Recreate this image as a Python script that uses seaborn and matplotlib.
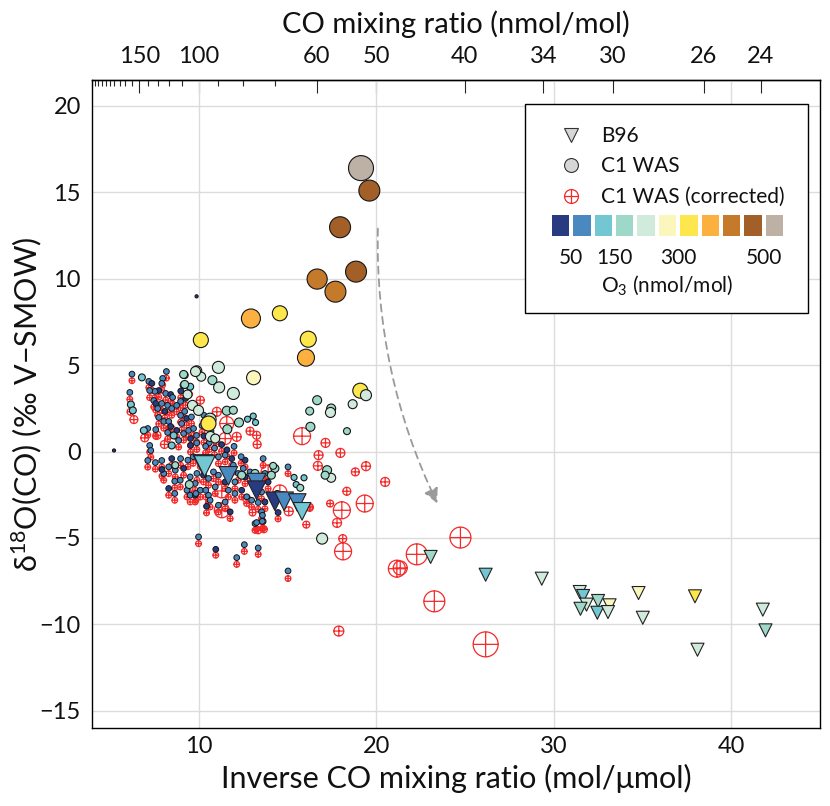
import numpy as np
import pandas as pd
import matplotlib
matplotlib.use('Agg')
import matplotlib.pyplot as plt
from matplotlib.path import Path
from matplotlib.lines import Line2D
from matplotlib.patches import Rectangle
from matplotlib.colors import ListedColormap
import seaborn as sns

# O3 colour classes (50 nmol/mol wide)
o3_colors = ['#283a80', '#4a88c0', '#72c7d3', '#9ed8c8', '#d0ebdc', '#faf6bc',
             '#fde74c', '#fbb040', '#c47a2a', '#a35f28', '#bdb1a5']
o3_ticks = [1, 3, 6, 10]
o3_ticklabels = ['50', '150', '300', '500']

# C1 WAS, small points of the dense cluster (inverse CO, d18O, O3, d18O corrected)
small_x = [6.25, 7.20, 7.37, 8.19, 7.98, 7.93, 7.76, 7.54, 7.25, 8.15, 8.43, 8.54, 6.13, 7.48,
           7.59, 7.93, 8.26, 7.70, 8.10, 8.49, 8.77, 8.99, 9.27, 7.76, 8.04, 8.32, 8.43, 7.14,
           7.59, 8.26, 8.77, 9.05, 8.99, 9.22, 9.33, 9.16, 9.44, 9.72, 9.55, 8.88, 7.25, 7.31,
           9.55, 9.89, 7.14, 7.93, 8.49, 8.99, 11.12, 11.50, 11.87, 11.96, 10.84, 11.12, 11.50,
           12.05, 12.24, 12.52, 12.62, 12.90, 11.68, 12.05, 12.43, 12.71, 12.99, 13.36, 13.74,
           13.55, 13.64, 13.18, 11.78, 10.56, 10.10, 9.81, 9.44, 8.97, 9.53, 9.91, 9.16, 8.69,
           8.32, 8.04, 8.32, 8.66, 9.35, 9.53, 9.81, 10.65, 10.94, 10.56, 10.28, 11.50, 11.12,
           10.00, 10.97, 12.58, 13.36, 12.15, 15.04, 14.48, 15.04, 13.64, 12.62, 13.74, 13.55,
           13.92, 13.27, 13.59, 13.60, 10.30, 10.60, 10.90, 10.40, 11.00, 10.20, 9.90, 10.70,
           11.30, 9.70, 10.10, 9.40, 11.60, 12.00, 12.40, 7.57, 7.94, 8.66, 9.85, 10.41, 10.45,
           9.60, 10.30, 9.00, 9.50]
small_y = [4.48, 4.06, 3.94, 4.63, 4.23, 3.94, 3.53, 3.48, 3.53, 3.36, 3.30, 3.13, 3.42, 2.95,
           2.78, 2.78, 2.67, 2.49, 2.32, 2.49, 2.67, 2.90, 3.07, 1.97, 1.74, 1.74, 1.45, 1.33,
           1.27, 1.10, 1.22, 1.62, 2.09, 2.32, 1.91, 1.04, 1.22, 1.33, 0.75, 0.64, 0.35, 0.06,
           0.35, 0.93, -0.52, -0.52, -0.41, -0.41, -0.31, -0.21, -0.41, -0.79, -1.18, -1.37, -1.76,
           -1.76, -1.27, -0.98, -1.47, -1.18, -2.24, -2.43, -2.24, -2.62, -2.82, -2.95, -2.92,
           -3.49, -4.04, -4.17, -3.49, -2.53, -2.24, -1.85, -1.95, -1.66, -1.47, -1.27, -0.98, -1.08,
           -0.89, -1.27, -2.14, -2.43, -2.24, -2.53, -2.53, -2.82, -2.05, -1.56, -1.37, -2.92, -3.11,
           -4.94, -5.66, -5.39, -5.58, -6.14, -6.91, -3.53, -0.89, -0.41, -0.50, -1.27, -2.34,
           -1.76, -4.11, -4.04, -3.69, 0.90, 0.50, 0.20, 0.30, 0.80, 1.50, 0.50, 1.20,
           0.40, -0.30, -0.50, -0.50, 0.10, 0.30, -0.30, -0.64, -1.04, -1.72, -2.43, -2.24, -3.17,
           2.00, 2.10, 3.50, 3.70]
small_o3 = [80, 80, 40, 80, 80, 80, 40, 80, 80, 80, 40, 80, 80, 80,
            40, 80, 80, 80, 40, 80, 80, 80, 40, 80, 80, 80, 40, 80,
            80, 80, 40, 80, 80, 80, 40, 80, 80, 80, 40, 80, 80, 80,
            40, 80, 80, 80, 40, 80, 80, 80, 40, 80, 80, 80, 40,
            80, 80, 80, 40, 80, 80, 80, 40, 80, 80, 80, 40,
            80, 80, 80, 40, 80, 80, 80, 40, 80, 80, 80, 40, 80,
            80, 80, 40, 80, 80, 80, 40, 80, 80, 80, 40, 80, 80,
            80, 20, 80, 80, 80, 80, 20, 80, 80, 40, 80, 80,
            40, 80, 80, 80, 40, 80, 80, 80, 40, 80, 80, 80,
            40, 80, 80, 80, 40, 80, 80, 80, 40, 80, 80, 80, 20,
            80, 80, 40, 80]
small_y_corr = [4.10, 3.70, 3.55, 4.25, 3.85, 3.55, 3.15, 3.10, 3.12, 2.98, 2.92, 2.75, 3.02, 2.58,
                2.40, 2.38, 2.28, 2.10, 1.95, 2.10, 2.30, 2.52, 2.68, 1.60, 1.35, 1.36, 1.06, 0.95,
                0.88, 0.72, 0.84, 1.24, 1.70, 1.94, 1.52, 0.66, 0.84, 0.94, 0.36, 0.26, -0.03, -0.32,
                -0.03, 0.55, -0.90, -0.90, -0.79, -0.80, -0.70, -0.60, -0.80, -1.18, -1.57, -1.76, -2.15,
                -2.15, -1.66, -1.37, -1.86, -1.57, -2.63, -2.82, -2.63, -3.01, -3.21, -3.34, -3.31,
                -3.88, -4.45, -4.56, -3.88, -2.92, -2.63, -2.24, -2.34, -2.05, -1.86, -1.66, -1.37, -1.47,
                -1.28, -1.66, -2.53, -2.82, -2.63, -2.92, -2.92, -3.21, -2.44, -1.95, -1.76, -3.31, -3.50,
                -5.33, -6.00, -5.78, -5.95, -6.53, -7.35, -3.90, -1.28, -0.80, -0.89, -1.66, -2.73,
                -2.15, -4.50, -4.45, -4.08, 0.52, 0.12, -0.18, -0.08, 0.42, 1.12, 0.12, 0.82,
                0.02, -0.68, -0.88, -0.88, -0.28, -0.08, -0.68, -1.02, -1.42, -2.10, -2.82, -2.63, -3.55,
                1.62, 1.72, 3.12, 3.32]

# C1 WAS, larger points (inverse CO, d18O, O3, marker area)
was_x = [19.15, 19.62, 17.97, 18.87, 16.68, 17.71, 12.95, 14.58, 10.13, 16.18, 16.05, 13.10,
         19.11, 19.43, 11.12, 9.90, 10.15, 10.78, 11.16, 9.22, 9.16, 9.53, 9.38, 11.96, 11.59,
         11.96, 12.28, 10.65, 12.76, 13.08, 13.21, 11.62, 16.26, 16.30, 10.56, 16.68, 17.47,
         17.43, 18.68, 18.36, 17.24, 17.47, 17.13, 15.38, 15.94, 15.50, 15.73, 16.96, 6.81,
         6.19, 6.30, 6.92, 8.60, 8.49, 9.16, 9.22, 9.66, 10.00, 9.83, 14.30, 14.10, 13.18,
         9.48, 8.69, 12.43, 14.43, 14.20, 10.67, 10.94, 5.24, 9.89]
was_y = [16.40, 15.10, 12.98, 10.41, 9.98, 9.25, 7.70, 8.00, 6.45, 6.50, 5.43, 4.27,
         3.52, 3.26, 4.87, 4.67, 4.33, 4.13, 3.71, 4.42, 3.84, 3.75, 3.30, 3.36, 2.36,
         2.39, 1.68, 1.87, 1.87, 2.05, 1.68, 1.29, 2.34, 1.43, 1.62, 2.97, 2.49,
         2.26, 2.74, 1.18, -1.08, -1.52, -1.37, -1.50, -1.52, -1.91, -2.10, -5.04, 4.29,
         2.72, 2.38, 1.22, 0.93, 0.35, 4.46, 3.88, 2.67, 2.38, 4.63, -0.98, -1.37, -1.27,
         -1.91, -0.79, -1.37, -2.43, -0.83, 0.87, 0.75, 0.06, 8.98]
was_o3 = [520, 470, 470, 470, 420, 420, 370, 320, 320, 320, 370, 270,
          320, 220, 220, 220, 220, 180, 220, 130, 130, 130, 220, 220, 180,
          180, 180, 220, 130, 130, 130, 180, 180, 180, 320, 180, 180,
          220, 220, 180, 180, 220, 180, 130, 130, 130, 180, 220, 130,
          130, 130, 130, 130, 130, 180, 180, 220, 220, 220, 180, 180, 180,
          180, 180, 180, 180, 180, 220, 220, 30, 30]
was_s = [324, 228, 228, 228, 210, 228, 187, 117, 117, 133, 150, 102,
         117, 63, 75, 52, 42, 42, 63, 25, 25, 25, 42, 75, 42,
         33, 42, 75, 19, 19, 19, 42, 33, 42, 117, 42, 42,
         52, 42, 25, 42, 42, 33, 19, 19, 19, 25, 63, 25,
         25, 25, 25, 25, 25, 33, 33, 52, 52, 52, 33, 33, 33,
         33, 25, 33, 19, 25, 52, 42, 5, 5]

# C1 WAS corrected, larger points (inverse CO, d18O, marker area)
corr_x = [15.83, 17.15, 17.99, 16.76, 16.72, 19.43, 18.83, 20.51, 18.35, 17.41, 18.07, 19.36,
          17.80, 16.26, 16.07, 18.12, 18.14, 17.90, 21.17, 21.36, 22.29, 24.75, 23.28, 26.17,
          6.36, 6.97, 7.66, 8.08, 8.47, 6.17, 11.59, 11.50, 12.15, 12.90, 13.27, 13.30,
          11.03, 11.31, 11.31, 14.58, 13.92, 12.71, 13.04, 13.36, 13.68, 15.08, 16.26, 10.10]
corr_y = [0.89, 0.50, -0.08, -0.21, -0.83, -0.85, -1.18, -1.76, -2.30, -3.01, -3.40, -3.01,
          -4.13, -3.20, -4.23, -5.04, -5.78, -10.39, -6.78, -6.74, -5.95, -4.98, -8.67, -11.16,
          1.85, 0.79, 0.94, 0.41, 1.29, 2.30, 1.62, 0.75, 0.85, 1.18, 0.94, 0.41,
          2.30, -2.28, -3.40, -2.34, -1.18, -2.72, -3.53, -4.56, -4.50, -3.46, -3.26, 2.97]
corr_s = [150, 42, 42, 42, 42, 42, 33, 42, 33, 25, 150, 150,
          42, 25, 25, 33, 150, 52, 150, 102, 228, 228, 228, 324,
          33, 33, 33, 33, 33, 25, 102, 75, 42, 33, 33, 33,
          42, 102, 117, 102, 102, 33, 25, 25, 25, 42, 25, 33]

# B96 (inverse CO, d18O, O3, marker area)
b96_x = [10.24, 10.34, 11.68, 13.27, 13.27, 14.30, 14.82, 15.56, 15.83, 23.07, 26.17, 29.33,
         31.47, 31.66, 31.85, 31.51, 32.50, 33.15, 32.46, 33.06, 34.78, 35.02, 37.96, 38.10,
         41.78, 41.93]
b96_y = [-0.75, -0.85, -1.41, -1.80, -2.24, -2.88, -2.88, -2.95, -3.46, -6.10, -7.13, -7.36,
         -8.13, -8.36, -8.86, -9.10, -8.65, -8.90, -9.33, -9.29, -8.19, -9.62, -8.38, -11.47,
         -9.15, -10.35]
b96_o3 = [30, 130, 80, 80, 30, 30, 80, 80, 130, 180, 130, 220,
          220, 130, 220, 180, 180, 270, 130, 220, 270, 220, 320, 220,
          220, 180]
b96_s = [200, 230, 180, 180, 180, 180, 180, 160, 160, 88, 88, 88,
         88, 88, 88, 88, 88, 88, 88, 88, 88, 88, 88, 88,
         88, 88]

# arrow (start, end) in data units
arrow_start = (20.1, 12.9)
arrow_end = (23.45, -3.0)

red = '#f42a2a'
palette = dict(enumerate(o3_colors))

def o3_class(values):
    return np.minimum(np.asarray(values) // 50, 10).astype(int)

df_small = pd.DataFrame({'x': small_x, 'y': small_y, 'ycorr': small_y_corr,
                         'cls': o3_class(small_o3)})
df_was = pd.DataFrame({'x': was_x, 'y': was_y, 'cls': o3_class(was_o3), 's': was_s})
df_corr = pd.DataFrame({'x': corr_x, 'y': corr_y, 's': corr_s})
df_b96 = pd.DataFrame({'x': b96_x, 'y': b96_y, 'cls': o3_class(b96_o3), 's': b96_s})

# circle with a cross
oplus = Path.make_compound_path(
    Path.unit_circle(),
    Path([[-1, 0], [1, 0], [0, -1], [0, 1]],
         [Path.MOVETO, Path.LINETO, Path.MOVETO, Path.LINETO]))

sns.set_style('white')
plt.rcParams['font.family'] = ['Lato', 'DejaVu Sans']
plt.rcParams['mathtext.default'] = 'regular'
plt.rcParams['text.color'] = '#111111'
plt.rcParams['axes.labelcolor'] = '#111111'
plt.rcParams['xtick.labelcolor'] = '#111111'
plt.rcParams['ytick.labelcolor'] = '#111111'

fig = plt.figure(figsize=(8.3, 8.06), dpi=100)
ax = fig.add_axes([92 / 830, 78 / 806, 728 / 830, 648 / 806])

size_kw = dict(sizes=(5, 324), size_norm=(5, 324))

# corrected values first
sns.scatterplot(data=df_small, x='x', y='ycorr', marker=oplus, s=17, color='none',
                edgecolor=red, linewidth=0.9, legend=False, ax=ax, zorder=2)
sns.scatterplot(data=df_corr, x='x', y='y', size='s', marker=oplus, color='none',
                edgecolor=red, linewidth=0.9, legend=False, ax=ax, zorder=2, **size_kw)

# C1 WAS
sns.scatterplot(data=df_small, x='x', y='y', hue='cls', palette=palette, s=17,
                edgecolor='#151515', linewidth=0.7, legend=False, ax=ax, zorder=3)
sns.scatterplot(data=df_was, x='x', y='y', hue='cls', palette=palette, size='s',
                edgecolor='#151515', linewidth=0.8, legend=False, ax=ax, zorder=3, **size_kw)

# B96
sns.scatterplot(data=df_b96, x='x', y='y', hue='cls', palette=palette, size='s', marker='v',
                edgecolor='#222222', linewidth=0.8, legend=False, ax=ax, zorder=4, **size_kw)

ax.annotate('', xy=arrow_end, xytext=arrow_start,
            arrowprops=dict(arrowstyle='-|>', linestyle=(0, (4, 3)), color='#9a9a9a', lw=1.3,
                            connectionstyle='arc3,rad=0.12', mutation_scale=22,
                            shrinkA=0, shrinkB=0), zorder=1)

# axes
ax.set_xlim(4, 45)
ax.set_ylim(-16, 21.5)
ax.set_xticks([10, 20, 30, 40])
ax.set_xticks(np.arange(4, 46, 2), minor=True)
ax.set_yticks(np.arange(-15, 21, 5))
ax.set_yticks(np.arange(-16, 22, 1), minor=True)
ax.tick_params(which='both', direction='in', top=False, right=False, width=0.8,
               color='black', labelsize=17)
ax.tick_params(which='major', length=9)
ax.tick_params(which='minor', length=4.5)
ax.tick_params(axis='x', pad=6)
ax.tick_params(axis='y', pad=8)
ax.grid(True, which='major', color='#dcdcdc', lw=1)
ax.set_axisbelow(True)
for sp in ax.spines.values():
    sp.set_color('black')
    sp.set_linewidth(1.0)

ax.set_xlabel('Inverse CO mixing ratio (mol/μmol)', fontsize=22, labelpad=5)
ax.set_ylabel('δ$^{18}$O(CO) (‰ V−SMOW)', fontsize=22, labelpad=-3)

def inv(v):
    v = np.asarray(v, dtype=float)
    out = np.full_like(v, np.inf)
    nz = v != 0
    out[nz] = 1000.0 / v[nz]
    return out

co_major = [150, 100, 60, 50, 40, 34, 30, 26, 24]
co_minor = [70, 80, 90, 110, 120, 130, 140, 160, 170, 180, 190, 200, 210, 220, 230, 240, 250]
top = ax.secondary_xaxis('top', functions=(inv, inv))
top.set_xticks(co_major)
top.set_xticks(co_minor, minor=True)
top.set_xticklabels([str(v) for v in co_major])
top.tick_params(which='both', direction='in', width=0.8, labelsize=17, pad=9)
top.tick_params(which='major', length=9)
top.tick_params(which='minor', length=4.5)
top.spines['top'].set_linewidth(1.0)
top.set_xlabel('CO mixing ratio (nmol/mol)', fontsize=21, labelpad=10)

# legend box
ax.add_patch(Rectangle((0.595, 0.6404), 0.3885, 0.3226, transform=ax.transAxes,
                       facecolor='white', edgecolor='black', lw=1.0, zorder=6))
handles = [Line2D([], [], ls='none', marker='v', ms=10, mfc='#d6d6d6', mec='#333333', mew=0.8),
           Line2D([], [], ls='none', marker='o', ms=10, mfc='#d6d6d6', mec='#333333', mew=0.8),
           Line2D([], [], ls='none', marker=oplus, ms=10, mfc='none', mec=red, mew=0.9)]
leg = ax.legend(handles, ['B96', 'C1 WAS', 'C1 WAS (corrected)'], loc='upper left',
                bbox_to_anchor=(0.615, 0.958), frameon=False, fontsize=15,
                handlelength=1.2, handletextpad=0.85, labelspacing=0.5, borderpad=0.4)
leg.set_zorder(7)

cax = ax.inset_axes([0.629, 0.7562, 0.323, 0.0386])
cax.set_zorder(8)
sns.heatmap(np.arange(11).reshape(1, 11), cmap=ListedColormap(o3_colors), cbar=False,
            linewidths=1.5, linecolor='white', ax=cax)
cax.set_xticks(o3_ticks)
cax.set_xticklabels(o3_ticklabels, rotation=0, fontsize=15)
cax.set_yticks([])
cax.tick_params(axis='x', length=0, pad=7)
cax.set_xlabel('O$_3$ (nmol/mol)', fontsize=15, labelpad=4)

fig.savefig('out.png', dpi=100)
